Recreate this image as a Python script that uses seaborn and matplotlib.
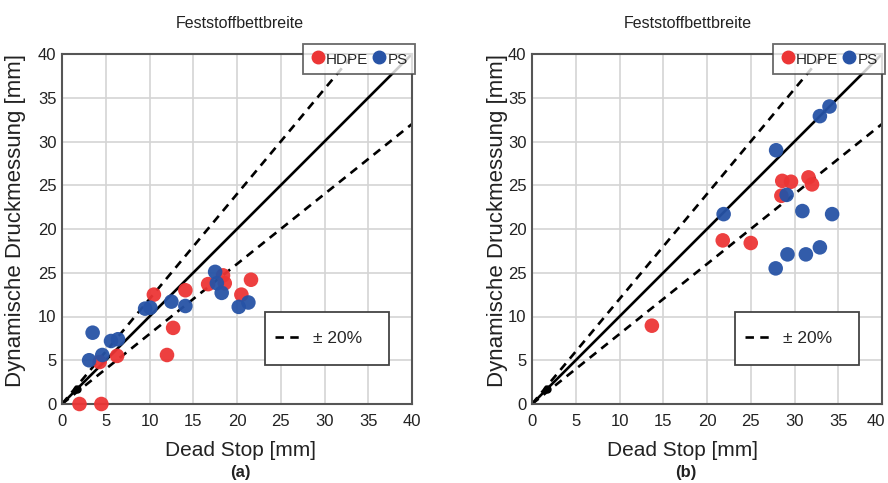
import matplotlib
matplotlib.use("Agg")
import matplotlib.pyplot as plt
import matplotlib.font_manager as fm
import matplotlib.transforms as mtransforms
from matplotlib.lines import Line2D
from matplotlib.patches import Rectangle
import seaborn as sns
import pandas as pd

# ---------------- data ----------------
a_hdpe_x = [2.0, 4.5, 4.3, 6.3, 12.0, 12.7, 10.5, 14.1, 16.7, 18.4, 18.6, 21.6, 20.5]
a_hdpe_y = [0.0, 0.0, 4.8, 5.5, 5.6, 8.7, 12.5, 13.0, 13.7, 14.7, 13.8, 14.2, 12.5]
a_ps_x = [3.5, 3.1, 4.6, 5.6, 6.4, 9.5, 10.1, 12.5, 14.1, 17.5, 17.7, 18.25, 20.2, 21.3]
a_ps_y = [8.15, 5.0, 5.6, 7.2, 7.4, 10.9, 11.0, 11.7, 11.2, 15.1, 13.8, 12.7, 11.1, 11.6]

b_hdpe_x = [13.7, 21.8, 25.0, 28.6, 29.6, 28.5, 31.6, 32.0]
b_hdpe_y = [8.95, 18.7, 18.4, 25.5, 25.4, 23.8, 25.9, 25.1]
b_ps_x = [21.9, 27.9, 29.1, 30.9, 34.3, 27.85, 29.2, 31.3, 32.9, 32.9, 34.0]
b_ps_y = [21.7, 29.0, 23.9, 22.05, 21.7, 15.5, 17.1, 17.1, 17.9, 32.9, 34.0]

line_x = [0, 45]
slopes = {"ideal": 1.0, "upper": 1.2, "lower": 0.8}
origin_dot = (1.7, 1.7)

ticks = [0, 5, 10, 15, 20, 25, 30, 35, 40]
x_ticklabels = ["0", "5", "10", "15", "20", "25", "30", "35", "40"]
y_ticklabels = ["0", "5", "10", "25", "20", "25", "30", "35", "40"]

series_names = ["HDPE", "PS"]
colors = {"HDPE": "#ec3535", "PS": "#2753a6"}
title_text = "Feststoffbettbreite"
xlabel_text = "Dead Stop [mm]"
ylabel_text = "Dynamische Druckmessung [mm]"
band_label = "± 20%"
panel_labels = ["(a)", "(b)"]

# ---------------- style ----------------
sns.set_style("white")
names = {f.name for f in fm.fontManager.ttflist}
base = "Liberation Sans" if "Liberation Sans" in names else "DejaVu Sans"
plt.rcParams["font.family"] = [base, "DejaVu Sans"]

W, H = 888, 483
fig = plt.figure(figsize=(W / 100, H / 100), dpi=100)
fig.patch.set_facecolor("white")


def make_df(hx, hy, px, py):
    return pd.DataFrame({
        "x": hx + px,
        "y": hy + py,
        "Material": ["HDPE"] * len(hx) + ["PS"] * len(px),
    })


panels = [
    (62, make_df(a_hdpe_x, a_hdpe_y, a_ps_x, a_ps_y)),
    (532, make_df(b_hdpe_x, b_hdpe_y, b_ps_x, b_ps_y)),
]

DASH = (3.2, 2.4)

for i, (left_px, df) in enumerate(panels):
    ax = fig.add_axes([left_px / W, 79 / H, 350 / W, 350 / H])
    ax.set_xlim(0, 40)
    ax.set_ylim(0, 40)
    ax.set_xticks(ticks)
    ax.set_yticks(ticks)
    ax.set_xticklabels(x_ticklabels)
    ax.set_yticklabels(y_ticklabels)
    ax.tick_params(axis="both", length=0, labelsize=12, colors="#222222")
    ax.tick_params(axis="x", pad=7)
    ax.tick_params(axis="y", pad=4)
    ax.grid(True, color="#d4d4d4", linewidth=1.2)
    ax.set_axisbelow(True)
    for s in ax.spines.values():
        s.set_color("#555555")
        s.set_linewidth(1.5)
    if i == 1:
        lab = ax.get_xticklabels()[-1]
        lab.set_transform(lab.get_transform() +
                          mtransforms.ScaledTranslation(-6 / 100, 0, fig.dpi_scale_trans))

    # reference lines
    ax.plot(line_x, [v * slopes["ideal"] for v in line_x], color="black", lw=1.9, zorder=2)
    ax.plot(line_x, [v * slopes["upper"] for v in line_x], color="black", lw=1.9,
            dashes=DASH, zorder=2)
    ax.plot(line_x, [v * slopes["lower"] for v in line_x], color="black", lw=1.9,
            dashes=DASH, zorder=2)
    ax.plot([origin_dot[0]], [origin_dot[1]], "o", color="black", ms=5, zorder=3)

    sns.scatterplot(data=df, x="x", y="y", hue="Material", palette=colors,
                    hue_order=series_names, s=110, edgecolor="none", alpha=0.95,
                    legend=False, ax=ax, zorder=4, clip_on=False)
    ax.set_xlabel("")
    ax.set_ylabel("")

    # legend 1: series
    handles = [Line2D([], [], marker="o", ls="none", color=colors[n], ms=9) for n in series_names]
    leg1 = ax.legend(handles, series_names, loc="upper left", bbox_to_anchor=(0.689, 1.029),
                     borderaxespad=0, ncol=2, fontsize=11, handletextpad=0.05,
                     columnspacing=0.2, handlelength=1.0, handleheight=1.3,
                     frameon=True, fancybox=False, edgecolor="#444444", borderpad=0.45)
    leg1.get_frame().set_linewidth(1.3)
    leg1.set_zorder(10)
    ax.add_artist(leg1)

    # legend 2: band (box drawn as a rectangle)
    box = Rectangle((0.58, 0.111), 0.354, 0.152, transform=ax.transAxes,
                    facecolor="white", edgecolor="#444444", lw=1.3, zorder=9, clip_on=False)
    ax.add_patch(box)
    h2 = Line2D([], [], color="black", lw=1.9, dashes=DASH)
    leg2 = ax.legend([h2], [band_label], loc="center left", bbox_to_anchor=(0.609, 0.187),
                     borderaxespad=0, borderpad=0, fontsize=12.5, handlelength=1.45,
                     handletextpad=0.75, frameon=False)
    leg2.set_zorder(10)

# ---------------- figure texts ----------------
title_centers = [240, 688]
xlabel_centers = [240, 682]
panel_centers = [240, 686]
ylabel_x = [16, 497]
for i in range(2):
    fig.text(title_centers[i] / W, 1 - 23 / H, title_text, ha="center", va="center",
             fontsize=11.5, color="#222222")
    fig.text(xlabel_centers[i] / W, 1 - 450 / H, xlabel_text, ha="center", va="center",
             fontsize=15, color="#222222")
    fig.text(panel_centers[i] / W, 1 - 473 / H, panel_labels[i], ha="center", va="center",
             fontsize=12, fontweight="bold", color="#222222")
    fig.text(ylabel_x[i] / W, 1 - 221 / H, ylabel_text, ha="center", va="center",
             rotation=90, fontsize=16, color="#222222")

fig.savefig("out.png", dpi=100, facecolor="white")
